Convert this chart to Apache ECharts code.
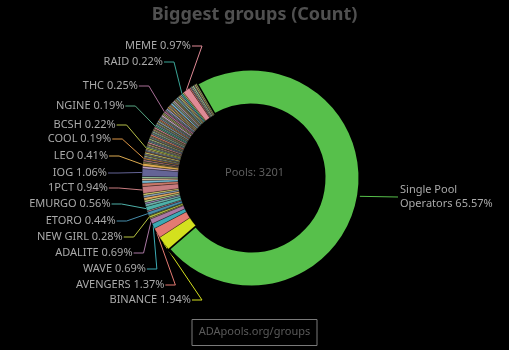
<!DOCTYPE html>
<html>
<head>
<meta charset="utf-8">
<script src="https://cdn.jsdelivr.net/npm/echarts@6/dist/echarts.min.js"></script>
<style>
html,body{margin:0;padding:0;background:#000;}
#c{width:509px;height:350px;}
</style>
</head>
<body>
<div id="c"></div>
<script>
// ---- data: pool counts per group, clockwise starting with the big slice ----
const totalPools = 3201;
const groupNames = [
  'Single Pool Operators','BINANCE','AVENGERS','WAVE','ADALITE','',
  'NEW GIRL','','ETORO','','EMURGO',
  '','','','','','',
  '1PCT',
  '','','','',
  'IOG','','LEO',
  '','','','',
  'COOL',
  '','','','','','','','',
  'BCSH',
  '','','','','','','','','','','','','','','','','','','',
  'NGINE',
  '','','','','','','','','','','','','',
  'THC',
  '','','','','','','','','','','','','','','','','','','','',
  'RAID',
  '',
  'MEME',
  '','','','','','',''
];
const groupCounts = [
  2099,62,44,22,22,5,
  9,4,14,6,18,
  11,7,9,12,10,8,
  30,
  14,12,9,8,
  34,10,13,
  5,3,6,3,
  6,
  4,6,3,5,7,4,5,5,
  7,
  5,4,6,3,7,5,4,6,3,5,4,8,5,3,6,4,5,4,7,
  6,
  6,4,5,3,7,4,6,5,3,4,8,5,6,
  8,
  4,5,7,3,6,4,5,4,8,3,5,6,4,5,3,7,4,6,5,6,
  7,
  5,
  31,
  6,4,5,7,3,6,5
];
const centerText = 'Pools: ' + totalPools;
const titleText = 'Biggest groups (Count)';
const linkText = 'ADApools.org/groups';

// ---- styles ----
const namedColors = {
  'Single Pool Operators':'#57c04b','BINANCE':'#d4e01e','AVENGERS':'#e47a72','WAVE':'#3caab4',
  'ADALITE':'#aa78a4','NEW GIRL':'#b8c440','ETORO':'#468caa','EMURGO':'#4eb0a8','1PCT':'#c87c80',
  'IOG':'#646496','LEO':'#dcaa50','COOL':'#dc9646','BCSH':'#b5bf48','NGINE':'#58a884',
  'THC':'#a86e96','RAID':'#3aa596','MEME':'#e08a96'
};
const stripePalette = ['#c8b478','#9bab6a','#d48a96','#6cb0a8','#a898c8','#b0d088','#e0a860',
  '#8aa0b8','#d8d070','#c87868','#78b8d0','#e0c0a0','#98c8a0','#c0a0c0'];

// ---- label layout (left column rows, top to bottom, and the arc they follow) ----
const leftRows = [46,62,86,106,125,139,156,173,188,204,221,237,253,269,285,300];
const arc = {cx:245, cy:173, r:138};
const rightLabel = {x:400, y:197};
const leftOrder = groupNames.filter((n,i)=>n!=='' && i>0).reverse();

let k = 0;
const seriesData = groupCounts.map((v,i)=>{
  const n = groupNames[i];
  const named = n !== '';
  const color = named ? namedColors[n] : stripePalette[(k++) % stripePalette.length];
  const item = {
    name: named ? n : ('g' + i),
    value: v,
    itemStyle: {color: color},
    label: {show: named},
    labelLine: {show: named, lineStyle:{color: color}}
  };
  if (i === 0) {
    // dark rim separates the big slice from its neighbours
    item.itemStyle = {color: color, borderColor:'#000', borderWidth:3};
    item.label = {show:true, lineHeight:14,
      formatter: 'Single Pool\nOperators ' + (v/totalPools*100).toFixed(2) + '%'};
  }
  return item;
});

const chart = echarts.init(document.getElementById('c'), null, {renderer:'canvas'});
chart.setOption({
  backgroundColor:'#000',
  animation:false,
  title:[
    {text:titleText, left:'center', top:1,
     textStyle:{color:'#505050', fontSize:18, fontWeight:'bold', fontFamily:'Noto Sans'}},
    {text:linkText, left:'center', top:319, padding:[7,7,9,7],
     borderColor:'#7a7a7a', borderWidth:1,
     textStyle:{color:'#5a5a5a', fontSize:11, fontWeight:'normal', fontFamily:'Noto Sans'}}
  ],
  graphic:[{type:'text', left:'center', top:167, style:{text:centerText, fill:'#5e5e5e', font:'11px "Noto Sans"'}}],
  series:[{
    type:'pie',
    center:[251,178],
    radius:[73,109],
    startAngle:120,
    clockwise:true,
    avoidLabelOverlap:false,
    itemStyle:{borderWidth:0.3, borderColor:'#000'},
    label:{
      color:'#a9a9a9', fontSize:11, fontFamily:'Noto Sans',
      formatter:(p)=> p.name + ' ' + (p.value/totalPools*100).toFixed(2) + '%'
    },
    labelLine:{length:10, length2:10, lineStyle:{width:1}},
    labelLayout:function(p){
      const name = groupNames[p.dataIndex];
      if (!name) return {};
      const a = p.labelLinePoints ? p.labelLinePoints[0] : null;
      if (p.dataIndex === 0) {
        const out = {x:rightLabel.x, y:rightLabel.y, align:'left', verticalAlign:'middle'};
        if (a) out.labelLinePoints = [a, [rightLabel.x-2, rightLabel.y], [rightLabel.x-2, rightLabel.y]];
        return out;
      }
      const y = leftRows[leftOrder.indexOf(name)];
      const x = arc.cx - Math.sqrt(arc.r*arc.r - (y-arc.cy)*(y-arc.cy));
      const out = {x:x, y:y, align:'right', verticalAlign:'middle'};
      if (a) out.labelLinePoints = [a, [x+11, y], [x+1, y]];
      return out;
    },
    emphasis:{disabled:true},
    data:seriesData
  }]
});
</script>
</body>
</html>
